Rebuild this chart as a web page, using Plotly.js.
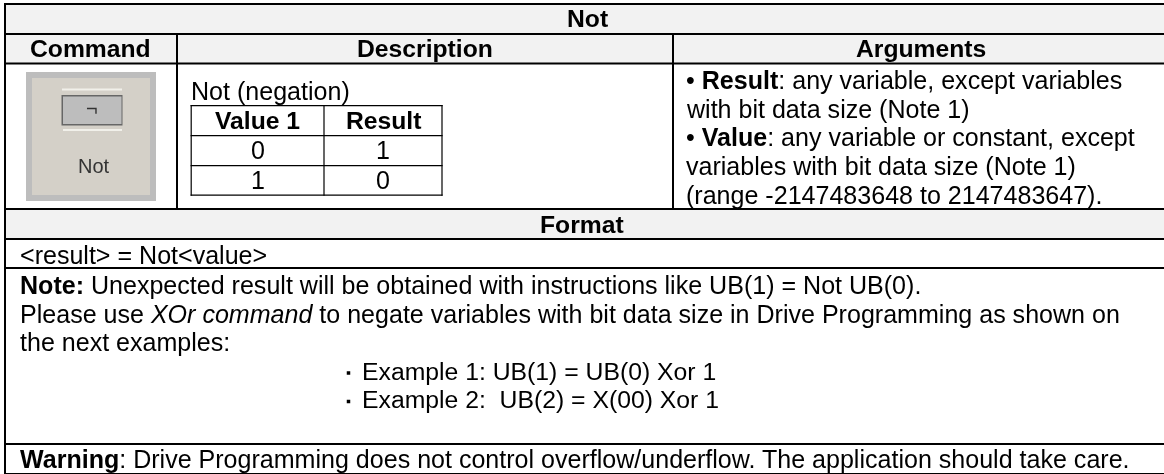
<!DOCTYPE html>
<html>
<head>
<meta charset="utf-8">
<script src="https://cdn.plot.ly/plotly-3.0.1.min.js"></script>
<style>html,body{margin:0;padding:0;background:#fff}#c{width:1164px;height:474px;filter:blur(0.35px)}</style>
</head>
<body>
<div id="c"></div>
<script>
var WIDTH = 1164, HEIGHT = 474;
var FONT = '"Liberation Sans", Arial, sans-serif';
var FONT_SIZE = 25.05;
var HEAD_SIZE = 24.7;

// Text content
var titleText = 'Not';
var headerTexts = ['Command', 'Description', 'Arguments'];
var formatTitle = 'Format';
var introText = 'Not (negation)';
var truthHeader = ['Value 1', 'Result'];
var truthValue1 = ['0', '1'];
var truthResult = ['1', '0'];
var argumentLines = [
  '• <b>Result</b>: any variable, except variables',
  'with bit data size (Note 1)',
  '• <b>Value</b>: any variable or constant, except',
  'variables with bit data size (Note 1)',
  '(range -2147483648 to 2147483647).'
];
var formatLine = '&lt;result&gt; = Not&lt;value&gt;';
var noteLines = [
  '<b>Note:</b> Unexpected result will be obtained with instructions like UB(1) = Not UB(0).',
  'Please use <i>XOr command</i> to negate variables with bit data size in Drive Programming as shown on',
  'the next examples:'
];
var exampleLines = ['Example 1: UB(1) = UB(0) Xor 1', 'Example 2:  UB(2) = X(00) Xor 1'];
var warningLine = '<b>Warning</b>: Drive Programming does not control overflow/underflow. The application should take care.';
var iconLabel = 'Not';
var iconGlyph = '¬';

// Grid geometry, in picture pixels: [start, end] of each rule
var gridRows = [[3, 5], [33, 35], [62.5, 64.5], [208, 210], [238, 240], [267, 269], [443, 445], [473, 474]];
var colLines = [[4, 6], [176, 178], [672, 674]];
var innerCols = [[190.6, 191.8], [323.4, 324.6], [441.4, 442.6]];
var innerRows = [[105, 106.2], [135, 136.2], [165, 166.2], [194.6, 195.8]];
var headerBands = [[4, 64], [209, 239]];

var shapes = [];
function rect(x0, y0, x1, y1, fill) {
  shapes.push({type: 'rect', xref: 'x', yref: 'y', x0: x0, x1: x1, y0: y0, y1: y1,
    fillcolor: fill, line: {width: 0}, layer: 'above'});
}
var INK = '#000000';
headerBands.forEach(function (b) { rect(colLines[0][0], b[0], WIDTH, b[1], '#f2f2f2'); });

// icon
rect(26, 72, 156, 201, '#bdbdbd');
rect(32, 78, 150, 195, '#d4d0c8');
rect(62, 88.5, 122, 90.5, '#f1f0ea');
rect(63, 129, 122, 131, '#f1f0ea');
rect(61.5, 95, 122.5, 125.5, '#666666');
rect(63, 96.5, 121.5, 124, '#bdbdbd');

// main rules
gridRows.forEach(function (r) { rect(colLines[0][0], r[0], WIDTH, r[1], INK); });
rect(colLines[0][0], gridRows[0][0], colLines[0][1], HEIGHT, INK);
rect(colLines[1][0], gridRows[1][0], colLines[1][1], gridRows[3][1], INK);
rect(colLines[2][0], gridRows[1][0], colLines[2][1], gridRows[3][1], INK);

// truth table rules
innerRows.forEach(function (r) { rect(innerCols[0][0], r[0], innerCols[2][1], r[1], INK); });
innerCols.forEach(function (c) { rect(c[0], innerRows[0][0], c[1], innerRows[3][1], INK); });

var ann = [];
function txt(x, y, s, anchor, opts) {
  opts = opts || {};
  ann.push({xref: 'x', yref: 'y', x: x, y: y, text: s, showarrow: false,
    xanchor: anchor, yanchor: 'middle', align: anchor, borderpad: 0, borderwidth: 0,
    font: {family: opts.family || FONT, size: opts.size || FONT_SIZE, color: opts.color || '#000'}});
}
txt(587, 18.5, '<b>' + titleText + '</b>', 'center', {size: HEAD_SIZE});
var headerX = [90.5, 425, 921];
headerTexts.forEach(function (h, i) { txt(headerX[i], 48, '<b>' + h + '</b>', 'center', {size: HEAD_SIZE}); });
txt(582, 224, '<b>' + formatTitle + '</b>', 'center', {size: HEAD_SIZE});
txt(191, 91, introText, 'left');
var truthX = [257.5, 383];
truthHeader.forEach(function (h, i) { txt(truthX[i], 120, '<b>' + h + '</b>', 'center', {size: HEAD_SIZE}); });
var truthY = [150, 180];
truthValue1.forEach(function (v, i) { txt(truthX[0], truthY[i], v, 'center'); });
truthResult.forEach(function (v, i) { txt(truthX[1], truthY[i], v, 'center'); });
var argY = [80, 108.5, 137, 166, 195];
argumentLines.forEach(function (s, i) { txt(686, argY[i], s, 'left'); });
txt(20, 254.5, formatLine, 'left');
var noteY = [285, 313.5, 342];
noteLines.forEach(function (s, i) { txt(20, noteY[i], s, 'left'); });
var exampleY = [371, 399.5];
exampleLines.forEach(function (s, i) { txt(361.5, exampleY[i], s, 'left', {size: 24.75}); });
txt(20, 459, warningLine, 'left');
txt(93.5, 166, iconLabel, 'center', {size: 20, color: '#333'});
txt(92, 108, iconGlyph, 'center', {size: 20, color: '#333'});

var traces = [{
  type: 'scatter', mode: 'markers', x: [348.5, 348.5], y: [373, 401.5],
  marker: {symbol: 'square', size: 3.5, color: '#000', line: {width: 0}},
  hoverinfo: 'skip', showlegend: false
}];

var layout = {
  width: WIDTH, height: HEIGHT,
  margin: {l: 0, r: 0, t: 0, b: 0, pad: 0},
  paper_bgcolor: '#fff', plot_bgcolor: '#fff',
  showlegend: false,
  xaxis: {range: [0, WIDTH], visible: false, fixedrange: true},
  yaxis: {range: [HEIGHT, 0], visible: false, fixedrange: true},
  shapes: shapes, annotations: ann
};
Plotly.newPlot('c', traces, layout, {staticPlot: true, displayModeBar: false});
</script>
</body>
</html>
